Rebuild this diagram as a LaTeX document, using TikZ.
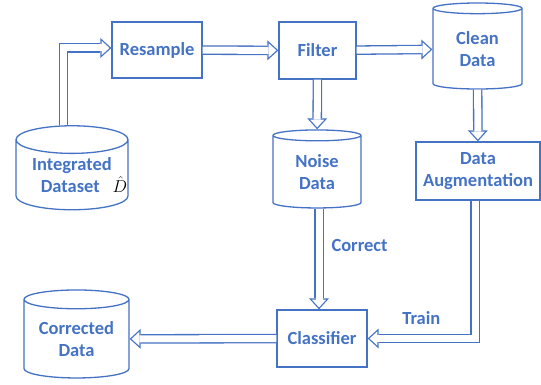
\documentclass[tikz,border=0pt]{standalone}
\usepackage{fontspec}
\setsansfont{Carlito}
\usetikzlibrary{shapes.geometric,arrows.meta}
\definecolor{cblue}{HTML}{4472C4}
\tikzset{
  box/.style={draw=cblue, line width=1.3pt, text=cblue, align=center, inner sep=0pt,
    font=\sffamily\bfseries\fontsize{18.5}{22.5}\selectfont},
  db/.style={box, cylinder, shape border rotate=90, aspect=0.25},
  lbl/.style={text=cblue, inner sep=0pt, font=\sffamily\bfseries\fontsize{18.5}{22.5}\selectfont},
  flow/.style={white, line width=7pt, line join=miter, shorten >=1.9pt,
    -{Triangle[length=7.8pt,width=14.2pt,line width=0pt]},
    preaction={draw=cblue, line width=9.6pt, shorten >=0pt,
      -{Triangle[length=11pt,width=20pt,line width=0pt]}}},
}
\begin{document}
\begin{tikzpicture}[x=1pt,y=-1pt]
  \useasboundingbox (0,0) rectangle (541,385);
  \node (data) [db, minimum width=112pt, minimum height=84pt] at (72,175)
    {Integrated\\\hspace*{24pt}Dataset\hspace{13pt}\textcolor{black}{$\hat{D}$}};
  \node (resample) [box, minimum width=90pt, minimum height=56pt] at (157,50) {Resample};
  \node (filter) [box, minimum width=77pt, minimum height=57pt] at (317.5,50.5) {Filter};
  \node (clean) [db, minimum width=89pt, minimum height=86pt] at (477.5,49) {Clean\\Data};
  \node (noise) [db, minimum width=88pt, minimum height=78pt] at (317,172) {Noise\\Data};
  \node (aug) [box, minimum width=124pt, minimum height=58pt] at (478,171) {Data\\Augmentation};
  \node (clf) [box, minimum width=90pt, minimum height=57pt] at (322,338.5) {Classifier};
  \node (corr) [db, minimum width=105pt, minimum height=88pt] at (76.5,339) {Corrected\\Data};

  \draw[flow] ([xshift=-8.5pt]data.north) |- ([yshift=2pt]resample.west);
  \draw[flow] (resample) -- (filter);
  \draw[flow] (filter) -- (clean);
  \draw[flow] (filter) -- (noise);
  \draw[flow] (clean) -- (aug);
  \draw[flow] ([xshift=2pt]noise.south) -- ([xshift=2pt]noise.south |- clf.north)
    node[lbl, right=9pt, pos=0.37] {Correct};
  \draw[flow] ([xshift=-3pt]aug.south) |- (clf.east)
    node[lbl, above=10pt, pos=0.75] {Train};
  \draw[flow] (clf) -- (corr);
\end{tikzpicture}
\end{document}
